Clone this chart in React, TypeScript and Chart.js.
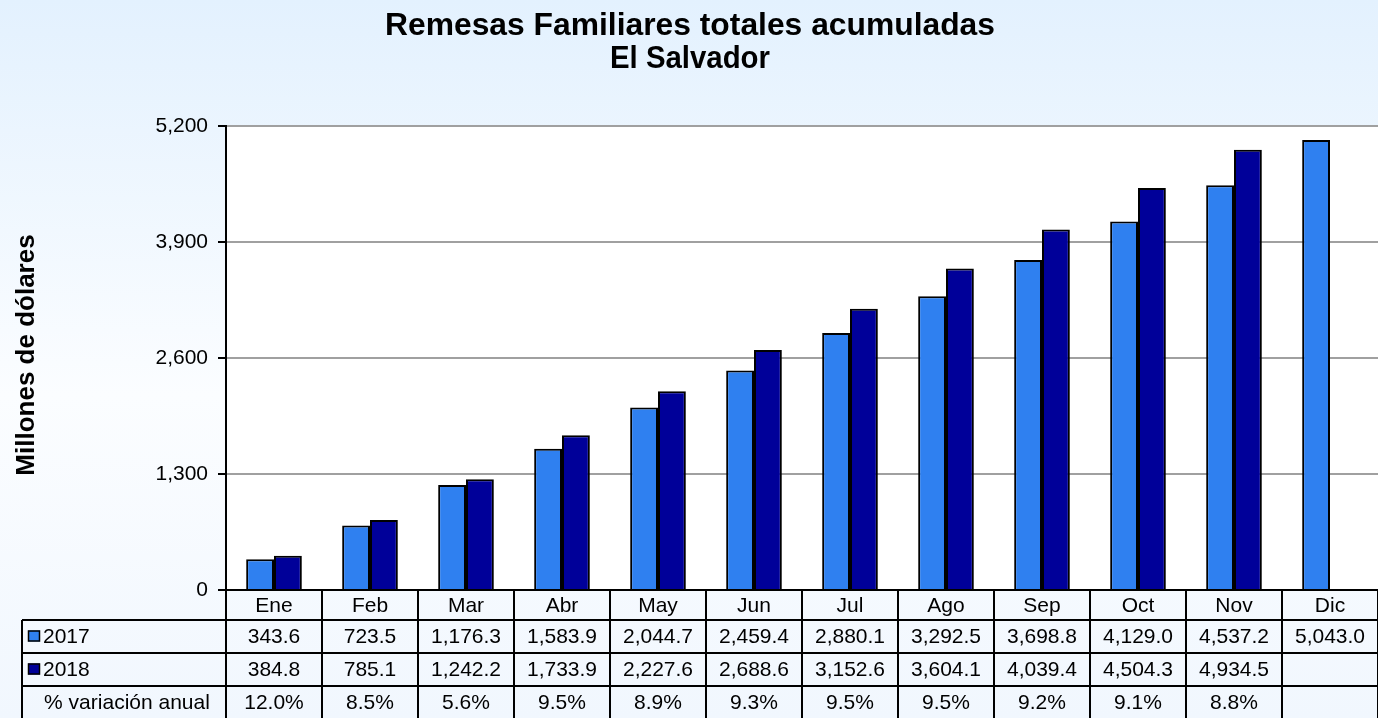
import React, { useEffect, useRef } from "react";
import { Chart, registerables } from "chart.js";

Chart.register(...registerables);

const months = ["Ene", "Feb", "Mar", "Abr", "May", "Jun", "Jul", "Ago", "Sep", "Oct", "Nov", "Dic"];
const values2017 = [343.6, 723.5, 1176.3, 1583.9, 2044.7, 2459.4, 2880.1, 3292.5, 3698.8, 4129.0, 4537.2, 5043.0];
const values2018: (number | null)[] = [384.8, 785.1, 1242.2, 1733.9, 2227.6, 2688.6, 3152.6, 3604.1, 4039.4, 4504.3, 4934.5, null];
const variation = ["12.0%", "8.5%", "5.6%", "9.5%", "8.9%", "9.3%", "9.5%", "9.5%", "9.2%", "9.1%", "8.8%", ""];
const seriesLabels = ["2017", "2018"];
const variationLabel = "% variación anual";
const titleLines = ["Remesas Familiares totales acumuladas", "El Salvador"];
const yTitle = "Millones de dólares";

const COLOR_2017 = "#2F80F0";
const COLOR_2018 = "#000099";
const FONT = "'Liberation Sans', Arial, sans-serif";

function fmt(v: number, dec: number) {
  return v.toLocaleString("en-US", { minimumFractionDigits: dec, maximumFractionDigits: dec });
}

function drawFitted(ctx: CanvasRenderingContext2D, text: string, cx: number, cy: number, font: string, width: number) {
  ctx.save();
  ctx.font = font;
  const w = ctx.measureText(text).width;
  const sx = width / w;
  ctx.translate(cx, cy);
  ctx.scale(sx, 1);
  ctx.textAlign = "center";
  ctx.textBaseline = "middle";
  ctx.fillText(text, 0, 0);
  ctx.restore();
}

const decorPlugin = {
  id: "decor",
  beforeDraw(chart: any) {
    const { ctx, width, height, chartArea } = chart;
    ctx.save();
    const g = ctx.createLinearGradient(0, 0, 0, height);
    g.addColorStop(0, "#E3F1FE");
    g.addColorStop(0.55, "#FBFDFF");
    g.addColorStop(1, "#F1F7FE");
    ctx.fillStyle = g;
    ctx.fillRect(0, 0, width, height);
    ctx.fillStyle = "#FFFFFF";
    ctx.fillRect(chartArea.left, chartArea.top, chartArea.right - chartArea.left, chartArea.bottom - chartArea.top);
    ctx.restore();
  },
  afterDraw(chart: any) {
    const { ctx, chartArea } = chart;
    const x = chart.scales.x;
    ctx.save();
    ctx.fillStyle = "#000";
    // titles
    drawFitted(ctx, titleLines[0], 690, 26, `bold 32px ${FONT}`, 610);
    drawFitted(ctx, titleLines[1], 690, 59, `bold 32px ${FONT}`, 160);
    // y title
    ctx.save();
    ctx.translate(27, 355);
    ctx.rotate(-Math.PI / 2);
    ctx.font = `bold 26px ${FONT}`;
    ctx.textAlign = "center";
    ctx.textBaseline = "middle";
    ctx.fillText(yTitle, 0, 0);
    ctx.restore();

    // table
    const left = chartArea.left;
    const right = chartArea.right;
    const top = chartArea.bottom;
    const rows = [top, top + 30, top + 63, top + 96, 718];
    const colLeft = 22;
    const n = months.length;
    const cw = (right - left) / n;
    ctx.strokeStyle = "#000";
    ctx.lineWidth = 2;
    ctx.beginPath();
    for (let i = 0; i <= n; i++) {
      const xx = Math.round(left + i * cw);
      ctx.moveTo(xx, top);
      ctx.lineTo(xx, 718);
    }
    for (let r = 1; r <= 3; r++) {
      ctx.moveTo(colLeft, rows[r]);
      ctx.lineTo(right, rows[r]);
    }
    ctx.moveTo(colLeft, rows[1]);
    ctx.lineTo(colLeft, 718);
    ctx.moveTo(left, top);
    ctx.lineTo(right, top);
    ctx.stroke();

    ctx.font = `21px ${FONT}`;
    ctx.textAlign = "center";
    ctx.textBaseline = "middle";
    for (let i = 0; i < n; i++) {
      const cx = x.getPixelForValue(i);
      ctx.fillText(months[i], cx, (rows[0] + rows[1]) / 2 + 1);
      ctx.fillText(fmt(values2017[i], 1), cx, (rows[1] + rows[2]) / 2 + 1);
      const v = values2018[i];
      if (v != null) ctx.fillText(fmt(v, 1), cx, (rows[2] + rows[3]) / 2 + 1);
      ctx.fillText(variation[i], cx, (rows[3] + rows[4]) / 2 + 1);
    }
    // legend
    const cols = [COLOR_2017, COLOR_2018];
    for (let s = 0; s < 2; s++) {
      const cy = (rows[1 + s] + rows[2 + s]) / 2;
      ctx.fillStyle = cols[s];
      ctx.fillRect(28, cy - 6, 12, 11);
      ctx.lineWidth = 1.5;
      ctx.strokeStyle = "#000";
      ctx.strokeRect(28.5, cy - 5.5, 11, 10);
      ctx.fillStyle = "#000";
      ctx.textAlign = "left";
      ctx.fillText(seriesLabels[s], 43, cy + 1);
    }
    ctx.textAlign = "center";
    ctx.fillText(variationLabel, 127, (rows[3] + rows[4]) / 2 + 1);
    ctx.restore();
  },
};

export default function App() {
  const ref = useRef<HTMLCanvasElement>(null);
  useEffect(() => {
    const canvas = ref.current!;
    const chart = new Chart(canvas, {
      type: "bar",
      data: {
        labels: months,
        datasets: [
          {
            label: seriesLabels[0],
            data: values2017,
            backgroundColor: COLOR_2017,
            borderColor: "#000",
            borderWidth: 2,
            categoryPercentage: 0.58,
            barPercentage: 1,
          },
          {
            label: seriesLabels[1],
            data: values2018,
            backgroundColor: COLOR_2018,
            borderColor: "#000",
            borderWidth: 2,
            categoryPercentage: 0.58,
            barPercentage: 1,
          },
        ],
      },
      options: {
        animation: false,
        responsive: false,
        maintainAspectRatio: false,
        layout: { padding: { top: 126, bottom: 128, left: 0, right: 0 } },
        plugins: {
          legend: { display: false },
          title: { display: false },
          tooltip: { enabled: false },
        },
        scales: {
          x: {
            display: false,
          },
          y: {
            min: 0,
            max: 5200,
            afterFit: (s: any) => {
              s.width = 226;
            },
            ticks: {
              stepSize: 1300,
              color: "#000",
              font: { family: FONT, size: 21 },
              padding: 10,
              callback: (v: any) => fmt(Number(v), 0),
            },
            grid: {
              color: (c: any) => (c.tick && c.tick.value === 0 ? "#000" : "#A0A0A0"),
              lineWidth: 2,
              drawTicks: true,
              tickLength: 8,
              tickColor: "#000",
            },
            border: { display: true, color: "#000", width: 2 },
          },
        },
      },
      plugins: [decorPlugin],
    });
    return () => chart.destroy();
  }, []);
  return (
    <div style={{ position: "absolute", left: 0, top: 0, width: 1378, height: 718 }}>
      <canvas ref={ref} width={1378} height={718} style={{ display: "block" }} />
    </div>
  );
}
